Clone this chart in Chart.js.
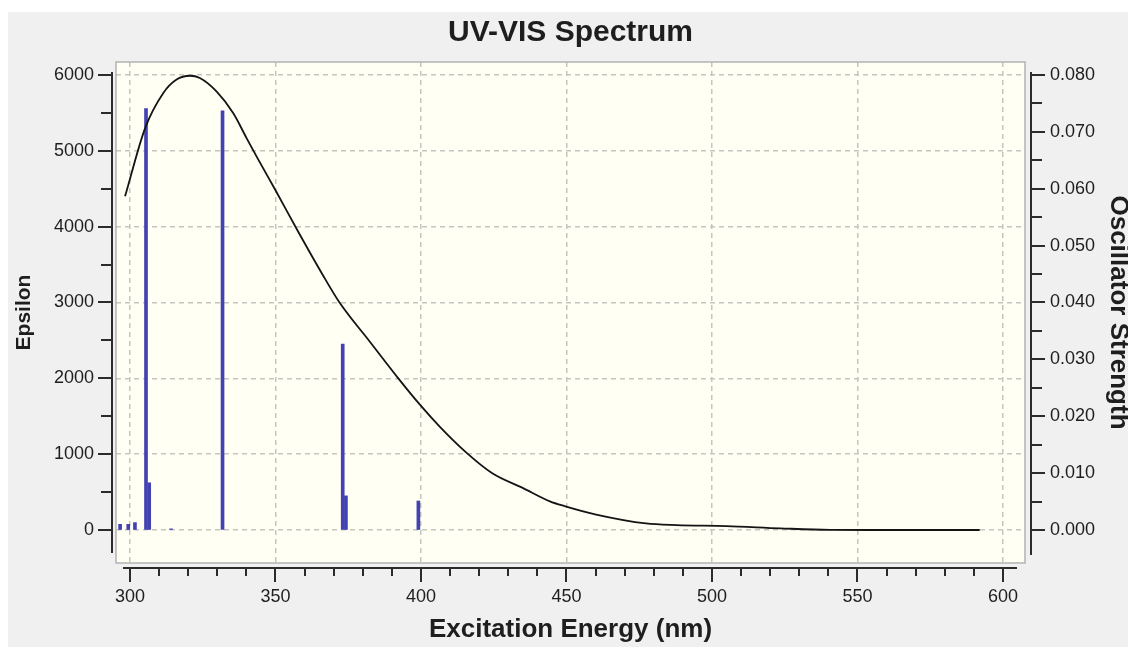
<!DOCTYPE html>
<html><head><meta charset="utf-8">
<script src="https://cdn.jsdelivr.net/npm/chart.js@4/dist/chart.umd.min.js"></script>
<style>html,body{margin:0;padding:0;background:#f0f0f0;overflow:hidden}#wrap{width:1128px;height:647px}</style>
</head><body><div id="wrap"><canvas id="c" width="1128" height="647"></canvas></div>
<script>
// ---- data ----
const curveWavelengths = [298.3, 305.2, 311.4, 316.0, 320.6, 324.0, 329.8, 335.5, 340.1, 344.0, 350.0, 358.0, 366.0, 372.0, 382.5, 392.2, 399.7, 406.5, 415.3, 424.5, 435.1, 444.3, 449.6, 460.2, 477.3, 487.9, 505.0, 523.5, 540.6, 560.0, 592.0];
const curveEpsilon     = [4400, 5300, 5760, 5940, 5990, 5960, 5780, 5495, 5165, 4890, 4480, 3920, 3380, 3000, 2480, 2000, 1649, 1360, 1030, 748, 552, 378, 313, 204, 87, 65, 52, 22, 2, 0, 0];
const stickWavelengths = [296.6, 299.4, 301.7, 305.5, 306.6, 314.1, 331.8, 373.1, 374.2, 399.1];
const stickStrengths   = [0.0010, 0.0010, 0.0013, 0.0741, 0.0083, 0.0002, 0.0737, 0.0327, 0.0060, 0.0051];

const xTicks   = [300,310,320,330,340,350,360,370,380,390,400,410,420,430,440,450,460,470,480,490,500,510,520,530,540,550,560,570,580,590,600];
const xMajor   = [300,350,400,450,500,550,600];
const xLabels  = ['300','350','400','450','500','550','600'];
const epsTicks = [0,500,1000,1500,2000,2500,3000,3500,4000,4500,5000,5500,6000];
const epsMajor = [0,1000,2000,3000,4000,5000,6000];
const epsLabels= ['0','1000','2000','3000','4000','5000','6000'];
const oscTicks = [0,0.005,0.010,0.015,0.020,0.025,0.030,0.035,0.040,0.045,0.050,0.055,0.060,0.065,0.070,0.075,0.080];
const oscMajor = [0,0.010,0.020,0.030,0.040,0.050,0.060,0.070,0.080];
const oscLabels= ['0.000','0.010','0.020','0.030','0.040','0.050','0.060','0.070','0.080'];

const FONT = "'Liberation Sans', Arial, sans-serif";
const TXT = '#1e1e1e';
const GRID = '#c6c6c0';
function majorIdx(list, v){ for (let i=0;i<list.length;i++){ if (Math.abs(list[i]-v) < 1e-9) return i; } return -1; }

const framePlugin = {
  id: 'frame',
  beforeDraw(chart){
    const {ctx, chartArea:a, width, height} = chart;
    ctx.save();
    ctx.fillStyle = '#f0f0f0'; ctx.fillRect(0,0,width,height);
    ctx.fillStyle = '#ffffff'; ctx.fillRect(0,0,width,12); ctx.fillRect(0,0,8,height);
    ctx.fillStyle = '#fffff4'; ctx.fillRect(a.left,a.top,a.right-a.left,a.bottom-a.top);
    ctx.restore();
  },
  afterDraw(chart){
    const {ctx, chartArea:a, scales} = chart;
    ctx.save();
    ctx.strokeStyle = '#b2b2b2'; ctx.lineWidth = 1.5;
    ctx.strokeRect(a.left, a.top, a.right-a.left, a.bottom-a.top);
    ctx.strokeStyle = '#2b2b2b'; ctx.lineWidth = 2; ctx.lineCap = 'butt';
    const y = scales.y, lx = a.left - 4;
    ctx.beginPath();
    ctx.moveTo(lx, y.getPixelForValue(epsTicks[epsTicks.length-1]) - 3);
    ctx.lineTo(lx, y.getPixelForValue(epsTicks[0]) + 23);
    epsTicks.forEach(v => { const p = Math.round(y.getPixelForValue(v)); const len = majorIdx(epsMajor, v) >= 0 ? 14 : 11; ctx.moveTo(lx, p); ctx.lineTo(lx - len, p); });
    ctx.stroke();
    const y2 = scales.y2, rx = a.right + 6;
    ctx.beginPath();
    ctx.moveTo(rx, y2.getPixelForValue(oscTicks[oscTicks.length-1]) - 3);
    ctx.lineTo(rx, y2.getPixelForValue(oscTicks[0]) + 25);
    oscTicks.forEach(v => { const p = Math.round(y2.getPixelForValue(v)); const len = majorIdx(oscMajor, v) >= 0 ? 14 : 11; ctx.moveTo(rx, p); ctx.lineTo(rx + len, p); });
    ctx.stroke();
    const x = scales.x, by = a.bottom + 5;
    ctx.beginPath();
    ctx.moveTo(x.getPixelForValue(xTicks[0]) - 7, by);
    ctx.lineTo(x.getPixelForValue(xTicks[xTicks.length-1]) + 14, by);
    xTicks.forEach(v => { const p = Math.round(x.getPixelForValue(v)); const len = majorIdx(xMajor, v) >= 0 ? 14 : 8; ctx.moveTo(p, by); ctx.lineTo(p, by + len); });
    ctx.stroke();
    ctx.restore();
  }
};

new Chart(document.getElementById('c'), {
  type: 'line',
  data: {
    datasets: [
      { type: 'line', label: 'Epsilon', data: curveWavelengths.map((w,i)=>({x:w, y:curveEpsilon[i]})),
        xAxisID: 'x', yAxisID: 'y', borderColor: '#141414', borderWidth: 1.8, pointRadius: 0,
        cubicInterpolationMode: 'monotone', fill: false, order: 0 },
      { type: 'bar', label: 'Oscillator Strength', data: stickWavelengths.map((w,i)=>({x:w, y:stickStrengths[i]})),
        xAxisID: 'x', yAxisID: 'y2', backgroundColor: '#4242b2', borderWidth: 0, barThickness: 3, order: 1 }
    ]
  },
  options: {
    responsive: false, animation: false, devicePixelRatio: 1,
    layout: { padding: 0 },
    plugins: {
      legend: { display: false }, tooltip: { enabled: false },
      title: { display: true, text: 'UV-VIS Spectrum', fullSize: false, color: TXT,
               font: { family: FONT, size: 30, weight: 'bold', lineHeight: 1.2 }, padding: { top: 14.5, bottom: 11.5 } }
    },
    scales: {
      x: {
        type: 'linear', position: 'bottom', min: 295.19, max: 607.56, offset: false,
        afterBuildTicks: s => { s.ticks = xTicks.map(v => ({value: v})); },
        afterFit: s => { s.height = 84; },
        ticks: { autoSkip: false, maxRotation: 0, padding: 23, color: TXT, font: { family: FONT, size: 18 },
                 callback: v => { const i = majorIdx(xMajor, v); return i >= 0 ? xLabels[i] : ''; } },
        grid: { drawTicks: false, offset: false, lineWidth: 1.5,
                color: c => (c.tick && majorIdx(xMajor, c.tick.value) >= 0) ? GRID : 'rgba(0,0,0,0)' },
        border: { display: false, dash: [5, 4] },
        title: { display: true, text: 'Excitation Energy (nm)', color: TXT,
                 font: { family: FONT, size: 26, weight: 'bold', lineHeight: 1.2 }, padding: { top: 0, bottom: 2 } }
      },
      y: {
        type: 'linear', position: 'left', min: -435.2, max: 6171.4,
        afterBuildTicks: s => { s.ticks = epsTicks.map(v => ({value: v})); },
        afterFit: s => { s.width = 116; },
        ticks: { autoSkip: false, padding: 22, color: TXT, font: { family: FONT, size: 18 },
                 callback: v => { const i = majorIdx(epsMajor, v); return i >= 0 ? epsLabels[i] : ''; } },
        grid: { drawTicks: false, lineWidth: 1.5,
                color: c => (c.tick && majorIdx(epsMajor, c.tick.value) >= 0) ? GRID : 'rgba(0,0,0,0)' },
        border: { display: false, dash: [5, 4] },
        title: { display: true, text: 'Epsilon', color: TXT,
                 font: { family: FONT, size: 21, weight: 'bold', lineHeight: 1.2 }, padding: { top: 12, bottom: 0 } }
      },
      y2: {
        type: 'linear', position: 'right', min: -0.005803, max: 0.082285,
        afterBuildTicks: s => { s.ticks = oscTicks.map(v => ({value: v})); },
        afterFit: s => { s.width = 103; },
        ticks: { autoSkip: false, padding: 25, color: TXT, font: { family: FONT, size: 18 },
                 callback: v => { const i = majorIdx(oscMajor, v); return i >= 0 ? oscLabels[i] : ''; } },
        grid: { drawTicks: false, drawOnChartArea: false },
        border: { display: false },
        title: { display: true, text: 'Oscillator Strength', color: TXT,
                 font: { family: FONT, size: 26, weight: 'bold', lineHeight: 1 }, padding: { top: -3.5, bottom: 0 } }
      }
    }
  },
  plugins: [framePlugin]
});
</script>
</body></html>
